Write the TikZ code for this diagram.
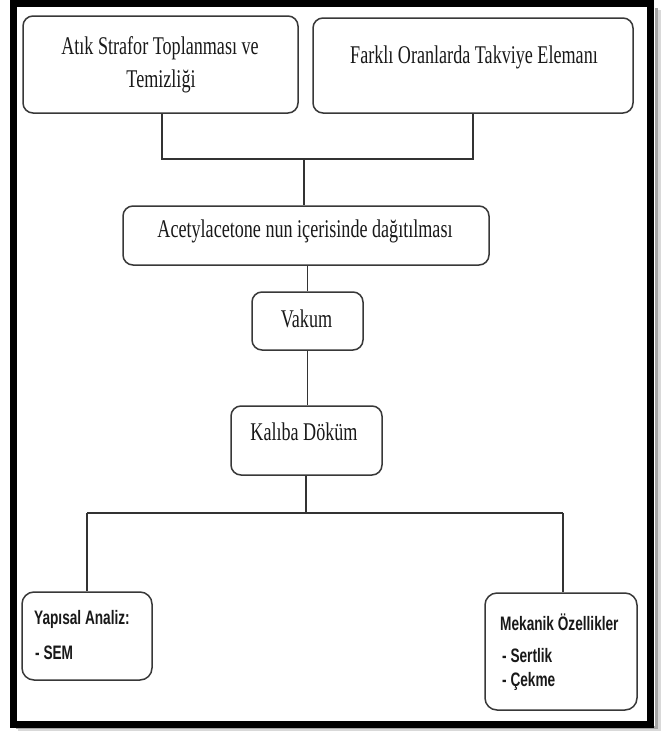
\documentclass[tikz,border=0pt]{standalone}
\usepackage{fontspec}
\newfontfamily\serifn[FakeStretch=0.71]{Liberation Serif}
\newfontfamily\sansn[FakeStretch=0.70]{Liberation Sans}
\usetikzlibrary{positioning}
\tikzset{
  boxst/.style={draw=black!78, line width=1.5pt, rounded corners=10pt, inner sep=0pt, fill=white},
  stxt/.style={inner sep=0pt, anchor=base, font=\serifn\fontsize{25.5}{30}\selectfont, text=black!90},
  ntxt/.style={inner sep=0pt, anchor=base west, font=\sansn\bfseries\fontsize{19.5}{23}\selectfont, text=black!90},
  conn/.style={draw=black!80, line width=1.2pt},
}
\begin{document}
\begin{tikzpicture}[x=1pt,y=-1pt]
\useasboundingbox (0,0) rectangle (665,731);
\fill[white] (0,0) rectangle (665,731);
% shadow of frame
\draw[black!15, line width=3pt] (659.5,10) -- (659.5,730) -- (18,730);
\draw[black!35, line width=3pt] (656.5,8) -- (656.5,727.5) -- (16,727.5);
% frame
\draw[black, line width=7pt] (13,3.5) rectangle (650.5,724.5);

% boxes
\node[boxst, minimum width=275pt, minimum height=97pt] (b1) at (160.5,64.5) {};
\node[boxst, minimum width=320pt, minimum height=95pt] (b2) at (473,65.5) {};
\node[boxst, minimum width=366pt, minimum height=59pt] (ac) at (306,235.5) {};
\node[boxst, minimum width=111pt, minimum height=58pt] (va) at (307.5,321) {};
\node[boxst, minimum width=151pt, minimum height=69pt] (ka) at (306.5,440.5) {};
\node[boxst, minimum width=130pt, minimum height=88pt, rounded corners=12pt] (ya) at (87,636) {};
\node[boxst, minimum width=152pt, minimum height=117pt, rounded corners=12pt] (me) at (561,651.5) {};

% texts
\node[stxt] (t1a) at (160,54) {Atık Strafor Toplanması ve};
\node[stxt] (t1b) at (161,87) {Temizliği};
\node[stxt] (t2) at (474,63) {Farklı Oranlarda Takviye Elemanı};
\node[stxt] (tac) at (305,237) {Acetylacetone nun içerisinde dağıtılması};
\node[stxt] (tva) at (306.5,327) {Vakum};
\node[stxt] (tka) at (304,440) {Kalıba Döküm};
\node[ntxt] (tya1) at (34,624) {Yapısal Analiz:};
\node[ntxt] (tya2) at (35,659) {- SEM};
\node[ntxt] (tme1) at (500,630) {Mekanik Özellikler};
\node[ntxt] (tme2) at (502,662) {- Sertlik};
\node[ntxt] (tme3) at (502,686) {- Çekme};

% junctions
\coordinate (j1) at (162,159);
\coordinate (j2) at (473,159);
\coordinate (jm) at (304,159);
\coordinate (k0) at (306,513);
\coordinate (k1) at (87,513);
\coordinate (k2) at (563,513);

% connectors
\draw[conn] (b1.south -| j1) -- (j1) -- (j2) -- (b2.south -| j2);
\draw[conn] (jm) -- (ac.north -| jm);
\draw[conn] (ac.south -| va) -- (va.north);
\draw[conn] (va.south) -- (ka.north -| va);
\draw[conn] (ka.south -| k0) -- (k0);
\draw[conn] (k1) -- (k2);
\draw[conn] (k1) -- (ya.north -| k1);
\draw[conn] (k2) -- (me.north -| k2);
\end{tikzpicture}
\end{document}
